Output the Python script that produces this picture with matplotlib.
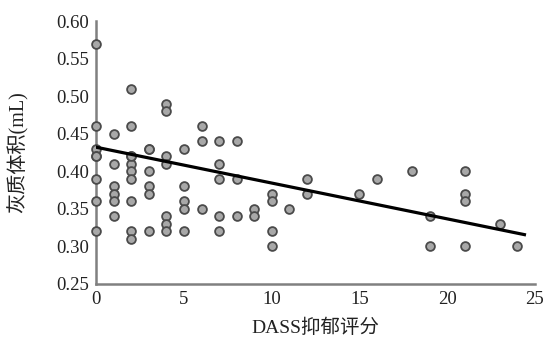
import matplotlib
matplotlib.use("Agg")
import matplotlib.pyplot as plt
import numpy as np

# DASS depression score vs grey matter volume
dass_score = [0, 0, 0, 0, 0, 0, 0, 0,
              1, 1, 1, 1, 1, 1,
              2, 2, 2, 2, 2, 2, 2, 2, 2, 2,
              3, 3, 3, 3, 3, 3,
              4, 4, 4, 4, 4, 4, 4,
              5, 5, 5, 5, 5,
              6, 6, 6,
              7, 7, 7, 7, 7,
              8, 8, 8,
              9, 9,
              10, 10, 10, 10,
              11, 12, 12, 15, 16, 18,
              19, 19, 21, 21, 21, 21, 23, 24]
grey_volume = [0.57, 0.46, 0.43, 0.42, 0.39, 0.36, 0.32, 0.42,
               0.45, 0.41, 0.38, 0.37, 0.36, 0.34,
               0.51, 0.46, 0.42, 0.41, 0.40, 0.39, 0.36, 0.32, 0.31, 0.42,
               0.43, 0.40, 0.38, 0.37, 0.32, 0.43,
               0.49, 0.48, 0.42, 0.41, 0.34, 0.33, 0.32,
               0.43, 0.38, 0.36, 0.35, 0.32,
               0.46, 0.44, 0.35,
               0.44, 0.41, 0.39, 0.34, 0.32,
               0.44, 0.39, 0.34,
               0.35, 0.34,
               0.37, 0.36, 0.32, 0.30,
               0.35, 0.39, 0.37, 0.37, 0.39, 0.40,
               0.34, 0.30, 0.40, 0.37, 0.36, 0.30, 0.33, 0.30]

# fitted regression line as drawn in the figure
fit_x = [0, 24.4]
fit_intercept = 0.432
fit_slope = -0.00477

x_ticks = [0, 5, 10, 15, 20, 25]
y_ticks = [0.25, 0.30, 0.35, 0.40, 0.45, 0.50, 0.55, 0.60]

serif_cjk = ["Liberation Serif", "Noto Sans CJK SC"]

fig = plt.figure(figsize=(5.47, 3.40), dpi=100)
ax = fig.add_axes([0.176, 0.165, 0.802, 0.773])

ax.scatter(dass_score, grey_volume, s=40, facecolor="#a8a8a8",
           edgecolor="#4a4a4a", linewidth=1.3, zorder=3, clip_on=False)

fx = np.array(fit_x)
ax.plot(fx, fit_intercept + fit_slope * fx, color="black", linewidth=2.3, zorder=4)

ax.set_xlim(0, 25)
ax.set_ylim(0.25, 0.60)
ax.set_xticks(x_ticks)
ax.set_yticks(y_ticks)
ax.set_xticklabels([str(t) for t in x_ticks], fontfamily="Liberation Serif", fontsize=13.5)
ax.set_yticklabels([f"{t:.2f}" for t in y_ticks], fontfamily="Liberation Serif", fontsize=13.5)
ax.tick_params(length=0, pad=5, colors="#222222")

for side in ["top", "right"]:
    ax.spines[side].set_visible(False)
for side in ["left", "bottom"]:
    ax.spines[side].set_color("#808080")
    ax.spines[side].set_linewidth(1.8)

ax.set_xlabel("DASS抑郁评分", family=serif_cjk, fontsize=14, color="#222222", labelpad=8)
ax.set_ylabel("灰质体积(mL)", family=serif_cjk, fontsize=14.5, color="#222222", labelpad=20)

plt.savefig("out.png", dpi=100)
